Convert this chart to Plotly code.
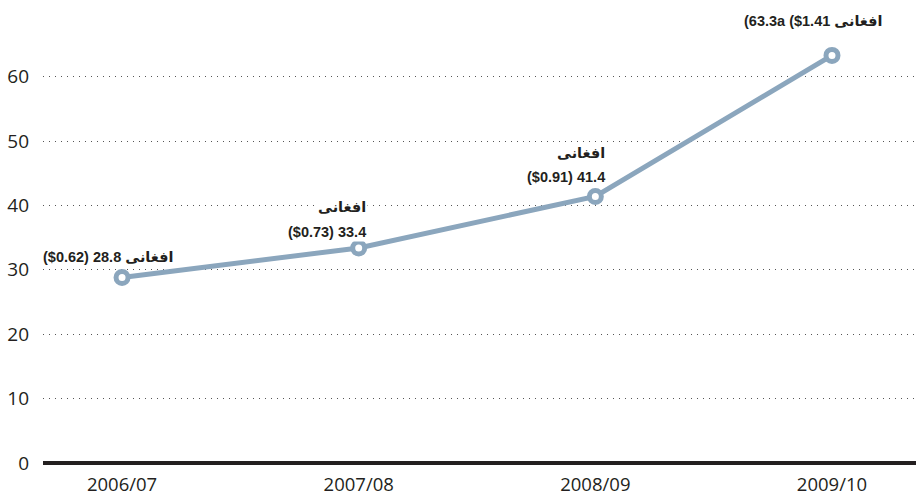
import plotly.graph_objects as go

# Fiscal years and revenue (billions of afghani)
years = ["2006/07", "2007/08", "2008/09", "2009/10"]
revenue_afs = [28.8, 33.4, 41.4, 63.3]
revenue_usd = [0.62, 0.73, 0.91, 1.41]

y_ticks = [0, 10, 20, 30, 40, 50, 60]

AFS = "افغانی"
LINE_COLOR = "#8ba6bd"
INK = "#231f20"
LABEL_FONT = dict(family="Liberation Sans, Arial, DejaVu Sans", size=14.5,
                  color=INK, weight="bold")

fig = go.Figure()
fig.add_trace(go.Scatter(
    x=years,
    y=revenue_afs,
    mode="lines+markers",
    line=dict(color=LINE_COLOR, width=5),
    marker=dict(size=12, color="white", line=dict(color=LINE_COLOR, width=5)),
    hoverinfo="skip",
    showlegend=False,
))

# Value labels: (line text, x shift, y shift) per point
labels = [
    [(f"(${revenue_usd[0]:.2f}) {revenue_afs[0]:.1f} {AFS}", 53, 21)],
    [(AFS, 9, 41), (f"(${revenue_usd[1]:.2f}) {revenue_afs[1]:.1f}", 9, 16)],
    [(AFS, 12, 43), (f"(${revenue_usd[2]:.2f}) {revenue_afs[2]:.1f}", 12, 19)],
    [(f"({revenue_afs[3]:.1f}a (${revenue_usd[3]:.2f} {AFS}", 53, 34)],
]
for yr, val, lines in zip(years, revenue_afs, labels):
    for text, dx, dy in lines:
        fig.add_annotation(
            x=yr, y=val, xref="x", yref="y",
            text=text, showarrow=False,
            xanchor="right", yanchor="middle",
            xshift=dx, yshift=dy,
            font=LABEL_FONT,
            bgcolor="white", borderpad=1,
        )

fig.update_layout(
    width=916, height=497,
    margin=dict(l=43, r=0, t=0, b=30),
    paper_bgcolor="white",
    plot_bgcolor="white",
    font=dict(family="Open Sans, Noto Sans, sans-serif", size=19, color=INK),
)

fig.update_xaxes(
    type="category",
    range=[-0.334, 3.355],
    showgrid=False,
    showline=False,
    ticks="",
    ticklabelstandoff=4,
    tickfont=dict(size=18.5, color=INK),
    automargin=False,
    fixedrange=True,
)

fig.update_yaxes(
    range=[-0.62, 71.9],
    tickvals=y_ticks,
    showgrid=True,
    gridcolor="#555555",
    gridwidth=1,
    griddash="1px,5px",
    zeroline=True,
    zerolinecolor=INK,
    zerolinewidth=4,
    showline=False,
    ticks="",
    ticklabelstandoff=13,
    tickfont=dict(size=19, color=INK),
    automargin=False,
    fixedrange=True,
)

fig.write_html("out.html")
